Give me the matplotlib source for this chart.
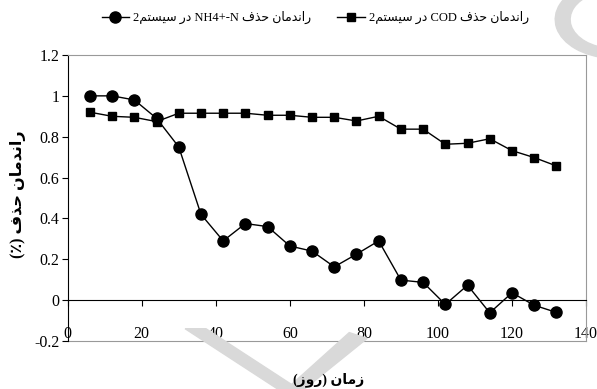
import matplotlib
matplotlib.use('Agg')
import matplotlib.pyplot as plt
from matplotlib.patches import Polygon, Wedge

plt.rcParams['font.family'] = ['Liberation Serif', 'DejaVu Sans']

# days of operation
days = [6, 12, 18, 24, 30, 36, 42, 48, 54, 60, 66, 72, 78, 84, 90, 96, 102, 108, 114, 120, 126, 132]
# removal efficiency, system 2
nh4_removal = [1.0, 1.0, 0.98, 0.89, 0.75, 0.42, 0.29, 0.375, 0.36, 0.265, 0.24, 0.163,
               0.225, 0.29, 0.098, 0.087, -0.021, 0.073, -0.062, 0.036, -0.025, -0.06]
cod_removal = [0.92, 0.90, 0.895, 0.874, 0.915, 0.915, 0.915, 0.915, 0.905, 0.905, 0.895, 0.895,
               0.877, 0.90, 0.837, 0.837, 0.763, 0.768, 0.79, 0.732, 0.698, 0.657]

xticks = [0, 20, 40, 60, 80, 100, 120, 140]
yticks = [-0.2, 0, 0.2, 0.4, 0.6, 0.8, 1.0, 1.2]
ytick_labels = ['-0.2', '0', '0.2', '0.4', '0.6', '0.8', '1', '1.2']

# persian words, written in presentation forms in visual (left-to-right) order
w_randeman = '\uFEE5\uFE8E\uFEE3\uFEAA\uFEE7\uFE8D\uFEAD'
w_hazf = '\uFED1\uFEAC\uFEA3'
w_dar = '\uFEAD\uFEA9'
w_system = '\uFEE2\uFE98\uFEB4\uFEF4\uFEB3'
w_zaman = '\uFEE5\uFE8E\uFEE3\uFEAF'
w_rooz = '\uFEAF\uFEED\uFEAD'

label_nh4 = '2' + w_system + ' ' + w_dar + ' NH4+-N ' + w_hazf + ' ' + w_randeman
label_cod = '2' + w_system + ' ' + w_dar + ' COD ' + w_hazf + ' ' + w_randeman
ylabel = '(\u066A) ' + w_hazf + ' ' + w_randeman
xlabel = '(' + w_rooz + ') ' + w_zaman

fig = plt.figure(figsize=(5.97, 3.89), dpi=100)
ax = fig.add_axes([0.1134, 0.1234, 0.8682, 0.7352])

# faint background marks
wm = '#d9d9d9'
fig.patches.append(Wedge((1.03, 0.95), 0.10, 120, 265, width=0.025, transform=fig.transFigure,
                         color=wm, zorder=0))
fig.patches.append(Polygon([(0.31, 0.155), (0.345, 0.155), (0.50, 0.0), (0.465, 0.0)],
                           transform=fig.transFigure, color=wm, zorder=0))
fig.patches.append(Polygon([(0.585, 0.145), (0.615, 0.13), (0.51, 0.0), (0.48, 0.0)],
                           transform=fig.transFigure, color=wm, zorder=0))

ax.plot(days, nh4_removal, color='black', lw=1, marker='o', ms=8, label=label_nh4, zorder=3)
ax.plot(days, cod_removal, color='black', lw=1, marker='s', ms=5.5, label=label_cod, zorder=3)

ax.set_xlim(0, 140)
ax.set_ylim(-0.2, 1.2)
ax.set_facecolor('none')

# horizontal axis sits on y = 0, labels stay at the bottom edge
ax.spines['bottom'].set_position(('data', 0))
ax.spines['bottom'].set_color('black')
ax.spines['left'].set_color('black')
for s in ['top', 'right']:
    ax.spines[s].set_color('#999999')
ax.set_xticks(xticks)
ax.tick_params(axis='x', direction='out', length=4, labelbottom=False, color='black')
ax.set_yticks(yticks)
ax.set_yticklabels(ytick_labels)
ax.tick_params(axis='y', direction='out', length=4, pad=2, labelsize=11.5)

sec = ax.secondary_xaxis('bottom')
sec.set_xticks(xticks)
sec.spines['bottom'].set_color('#999999')
sec.tick_params(length=0, pad=-10.5, labelsize=11.5)

fig.text(0.030, 0.50, ylabel, rotation=90, ha='center', va='center', fontsize=11.5,
         fontweight='bold')
fig.text(0.55, 0.025, xlabel, ha='center', va='center', fontsize=10, fontweight='bold')

fig.legend(loc='upper center', bbox_to_anchor=(0.528, 1.0), ncol=2, frameon=False,
           fontsize=9, handlelength=2.2, columnspacing=2.1, handletextpad=0.3)

fig.savefig('out.png', dpi=100)
